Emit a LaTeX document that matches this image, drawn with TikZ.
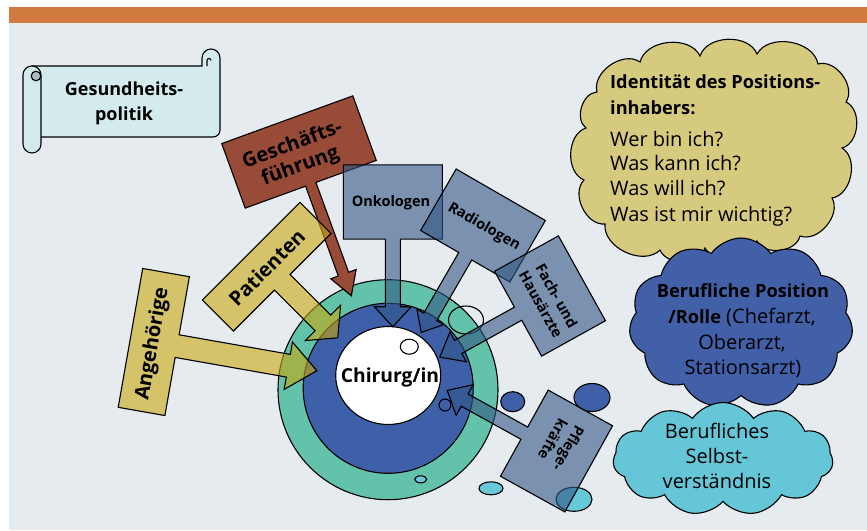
\documentclass[tikz,border=0pt]{standalone}
\usepackage{fontspec}
\setmainfont{Open Sans}
\usetikzlibrary{shapes.symbols,shapes.geometric}
\definecolor{bgc}{HTML}{E6EBF0}
\definecolor{barc}{HTML}{D07A40}
\definecolor{scrollc}{HTML}{D3EBEC}
\definecolor{scrollshade}{HTML}{A9BDBE}
\definecolor{brownc}{HTML}{984B36}
\definecolor{yelc}{HTML}{C8A910}
\definecolor{gbc}{HTML}{325685}
\definecolor{tealc}{HTML}{63C2AA}
\definecolor{bluec}{HTML}{3E60A8}
\definecolor{ycloud}{HTML}{D6CA7E}
\definecolor{bcloud}{HTML}{4160A8}
\definecolor{ccloud}{HTML}{64C6D6}
\definecolor{smallcyan}{HTML}{67C8D8}
\newcommand\mycallout[9]{%
  \begin{scope}[shift={(#1)}, rotate=#2]
    \path[#9] (-#3/2,-#4/2) -- (#3/2,-#4/2) -- (#3/2,#4/2) -- (#5/2,#4/2)
      -- (#5/2,#6-#8) -- (#7/2,#6-#8) -- (0,#6) -- (-#7/2,#6-#8)
      -- (-#5/2,#6-#8) -- (-#5/2,#4/2) -- (-#3/2,#4/2) -- cycle;
  \end{scope}}
\tikzset{
  outl/.style={draw=black, line width=1.1pt, line join=miter},
  scrollpart/.style={outl, fill=scrollc},
  brownbox/.style={outl, fill=brownc},
  yelbox/.style={outl, fill=yelc, fill opacity=0.6},
  gbbox/.style={outl, fill=gbc, fill opacity=0.6},
  lbl/.style={font=\bfseries\fontsize{20}{23}\selectfont, align=center, inner sep=0pt},
  slbl/.style={font=\bfseries\fontsize{14.5}{18}\selectfont, align=center, inner sep=0pt},
  cloudsty/.style={outl, cloud, cloud puffs=11, cloud puff arc=110, cloud ignores aspect, inner sep=0pt},
  puff/.style={bend left=70},
  ctext/.style={font=\fontsize{20}{25}\selectfont, anchor=base west, inner sep=0pt},
  cbold/.style={font=\bfseries\fontsize{18.2}{25}\selectfont, anchor=base west, inner sep=0pt},
  cmid/.style={font=\fontsize{20}{25}\selectfont, anchor=base, inner sep=0pt},
  blob/.style={outl},
}
\begin{document}
\begin{tikzpicture}[x=1pt,y=-1pt]
\useasboundingbox (0,0) rectangle (867,530);
\fill[white] (0,0) rectangle (867,530);
\fill[bgc] (9,7) rectangle (867,530);
\fill[barc] (9,7) rectangle (867,23);

% scroll
\path[scrollpart] (32,66) -- (202,66) -- (202,58) arc[start angle=180,end angle=0,radius=9pt]
  -- (220,130) arc[start angle=0,end angle=-90,radius=7pt] -- (32,137) -- cycle;
\draw[line width=1.1pt] (207,66) -- (207,60.5) arc[start angle=180,end angle=0,radius=2pt];
\path[scrollpart] (23,75) arc[start angle=180,end angle=0,radius=9pt]
  -- (41,144) arc[start angle=0,end angle=-180,radius=9pt] -- cycle;
\path[outl, fill=scrollshade] (36,76) circle[radius=4.8pt];
\node[font=\bfseries\fontsize{18}{25}\selectfont, align=center, inner sep=0pt] (gp) at (124,103) {Gesundheits-\\politik};

% clouds
\path[outl, fill=ycloud] (586,128) to[puff] (597,92) to[puff] (640,62) to[puff] (700,56)
  to[puff] (757,54) to[puff] (818,64) to[puff] (846,102) to[puff] (842,148)
  to[puff] (832,198) to[puff] (800,236) to[puff] (757,241) to[puff] (705,248)
  to[puff] (660,250) to[puff] (605,224) to[puff] (584,180) to[puff] (586,128) -- cycle;
\node[cbold] (id1) at (610,88.3) {Identität des Positions-};
\node[cbold] (id2) at (610,114) {inhabers:};
\node[ctext] (id3) at (610,146) {Wer bin ich?};
\node[ctext] (id4) at (610,170.7) {Was kann ich?};
\node[ctext] (id5) at (610,195.7) {Was will ich?};
\node[ctext] (id6) at (610,221.7) {Was ist mir wichtig?};

\node[cloudsty, fill=bcloud, minimum width=224pt, minimum height=170pt] (bc) at (741,323) {};
\node[cmid] (b1) at (743,297.3) {\fontsize{18.2}{25}\selectfont\bfseries Berufliche Position};
\node[cmid] (b2) at (742,323.3) {{\fontsize{18.2}{25}\selectfont\bfseries /Rolle} (Chefarzt,};
\node[cmid] (b3) at (742,349) {Oberarzt,};
\node[cmid] (b4) at (743,374) {Stationsarzt)};

\node[cloudsty, fill=ccloud, minimum width=220pt, minimum height=113pt] (cc) at (723,459) {};
\node[cmid] (c1) at (717,438.3) {Berufliches};
\node[cmid] (c2) at (717,463.3) {Selbst-};
\node[cmid] (c3) at (717,488.3) {verständnis};

% circles
\node[outl, circle, fill=tealc, minimum size=220pt, inner sep=0pt] (ring) at (388,389.7) {};
\node[outl, circle, fill=bluec, minimum size=170pt, inner sep=0pt] (core) at (388.2,388.3) {};
\node[outl, ellipse, fill=white, minimum width=105pt, minimum height=98pt, inner sep=0pt] (chir) at (388.2,375.5) {};
\node[font=\bfseries\fontsize{19.3}{23}\selectfont, inner sep=0pt] (chirt) at (390,377) {Chirurg/in};
\path[blob, fill=white] (409.3,346.7) ellipse[x radius=9pt, y radius=7.5pt];
\path[blob, fill=bluec] (445,405) circle[radius=6pt];
\path[blob, fill=smallcyan] (420.7,479.3) ellipse[x radius=6pt, y radius=3.5pt];
\path[blob] (466,320) ellipse[x radius=17.5pt, y radius=14pt];
\path[blob, fill=bluec] (512.7,401.7) ellipse[x radius=12pt, y radius=10pt];
\path[blob, fill=bluec] (592,397.5) ellipse[x radius=18pt, y radius=14pt];
\path[blob, fill=smallcyan] (491,488.3) ellipse[x radius=12pt, y radius=6.5pt];
\path[blob, fill=smallcyan] (574,499.3) ellipse[x radius=18pt, y radius=12pt];

% callouts
\mycallout{299,152}{20}{139.5}{68.7}{11}{153}{27}{23}{brownbox}
\node[lbl, rotate=20] (gf) at (296.5,156) {Geschäfts-\\führung};

\mycallout{153.8,342}{80}{141}{47.4}{23}{165.6}{48}{29}{yelbox}
\node[lbl, rotate=80] (ang) at (153,344) {Angehörige};

\mycallout{266.7,266.7}{45}{138}{44}{22}{100.5}{50}{21}{yelbox}
\node[lbl, rotate=45] (pat) at (266.7,267.5) {Patienten};

\mycallout{392.8,202}{0}{99}{74.3}{15}{124.7}{37}{20}{gbbox}
\node[slbl] (onk) at (391,203) {Onkologen};

\mycallout{483,225.5}{-30}{103}{71}{15}{123.5}{31}{18}{gbbox}
\node[slbl, rotate=-30] (rad) at (484,227) {Radiologen};

\mycallout{550,296}{-61}{97}{73}{15}{126}{34}{21}{gbbox}
\node[slbl, rotate=-61] (fach) at (549,300) {Fach- und\\Hausärzte};

\mycallout{556.5,451}{-119}{98.5}{73.6}{14}{125}{35}{20}{gbbox}
\node[slbl, rotate=-119] (pfl) at (561,444) {Pflege-\\kräfte};
\end{tikzpicture}
\end{document}
